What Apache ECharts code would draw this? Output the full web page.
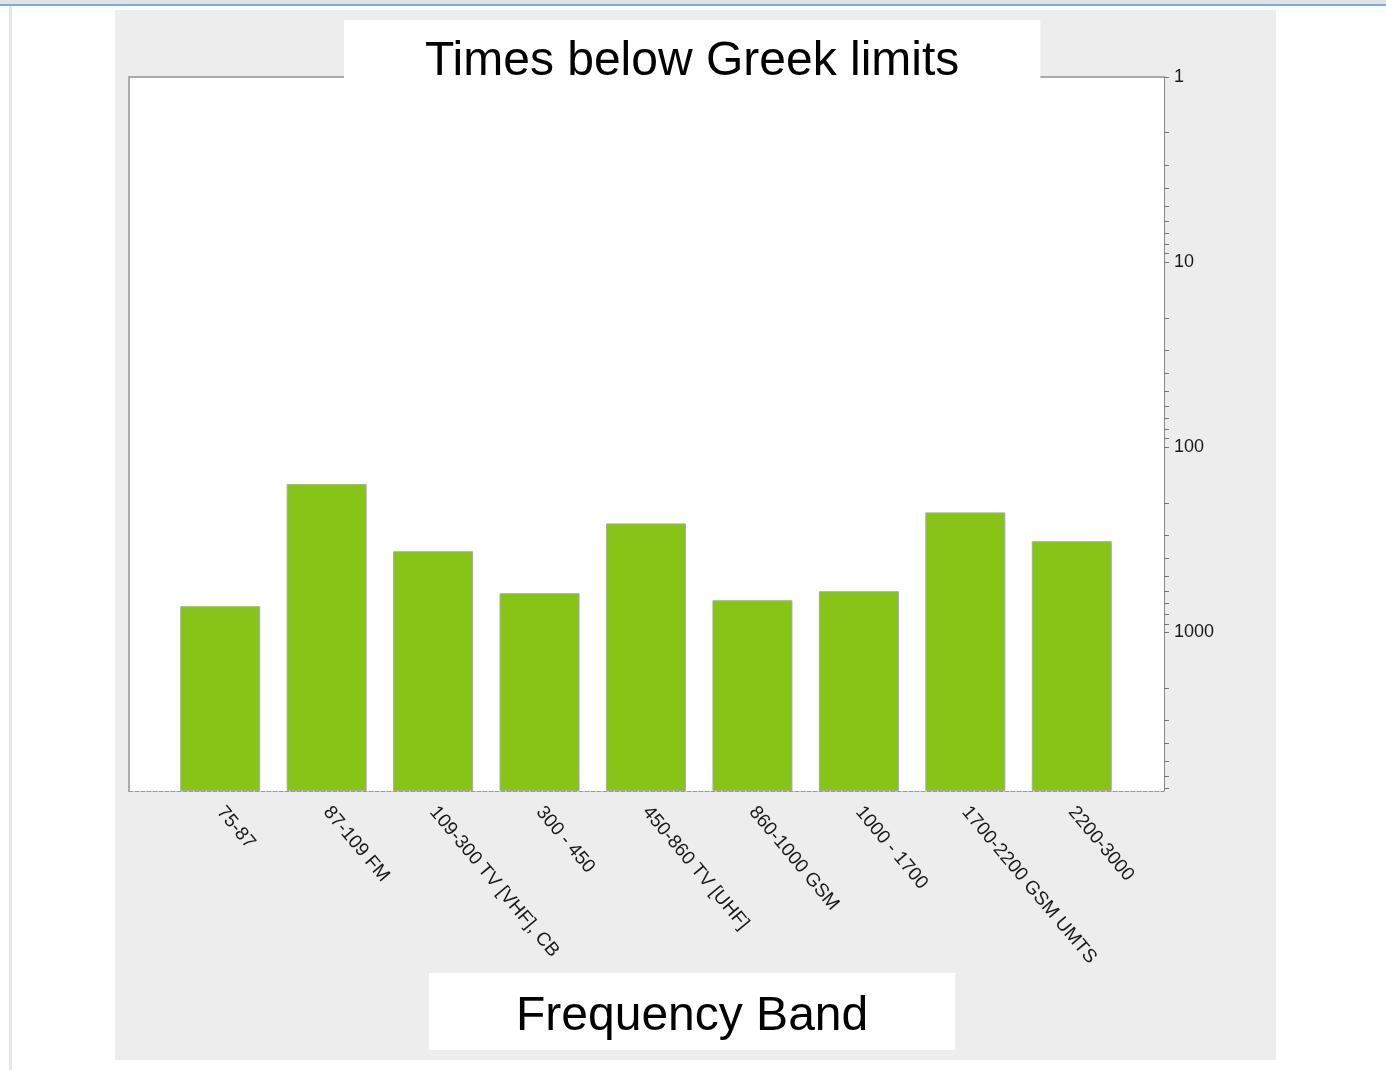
<!DOCTYPE html>
<html>
<head>
<meta charset="utf-8">
<script src="https://cdn.jsdelivr.net/npm/echarts@6/dist/echarts.min.js"></script>
<style>
  html, body { margin: 0; padding: 0; background: #fff; width: 1386px; height: 1070px; overflow: hidden; }
  .topbar { position: absolute; left: 0; top: 0; width: 1386px; height: 4px; background: #e2e2e2; }
  .blueline { position: absolute; left: 0; top: 4px; width: 1386px; height: 2px; background: #7ea9da; }
  .leftline { position: absolute; left: 9px; top: 6px; width: 3px; height: 1064px; background: #e6e6e6; }
  #chart { position: absolute; left: 115px; top: 10px; width: 1161px; height: 1050px; background: #ededed; }
</style>
</head>
<body>
<div class="topbar"></div>
<div class="blueline"></div>
<div class="leftline"></div>
<div id="chart"></div>
<script>
// frequency bands (MHz)
var bands = ['75-87', '87-109 FM', '109-300 TV [VHF], CB', '300 - 450', '450-860 TV [UHF]',
  '860-1000 GSM', '1000 - 1700', '1700-2200 GSM UMTS', '2200-3000'];
// how many times below the limit
var timesBelow = [723, 158, 365, 615, 258, 671, 600, 225, 322];

var yMin = 1;
var yMax = 7200;
var yLabelValues = [1, 10, 100, 1000];
var yTickValues = [1, 2, 3, 4, 5, 6, 7, 8, 9,
  10, 20, 30, 40, 50, 60, 70, 80, 90,
  100, 200, 300, 400, 500, 600, 700, 800, 900,
  1000, 2000, 3000, 4000, 5000, 6000, 7000];

var chart = echarts.init(document.getElementById('chart'));

var option = {
  animation: false,
  title: [{
    text: 'Times below Greek limits',
    left: 229,
    top: 10,
    backgroundColor: '#fff',
    padding: [18, 81, 0, 81],
    textStyle: { fontFamily: 'Liberation Sans', fontSize: 48, fontWeight: 'normal', color: '#000', lineHeight: 48 }
  }, {
    text: 'Frequency Band',
    left: 314,
    top: 963,
    backgroundColor: '#fff',
    padding: [20, 87, 9, 87],
    textStyle: { fontFamily: 'Liberation Sans', fontSize: 48, fontWeight: 'normal', color: '#000', lineHeight: 48 }
  }],
  grid: [{
    // plot frame
    left: 14, top: 67, width: 1035, height: 714,
    show: true, backgroundColor: '#fff', borderWidth: 0
  }, {
    // bars
    left: 52, top: 67, width: 958, height: 714
  }],
  xAxis: [{
    gridIndex: 0, type: 'value', min: 0, max: 1, position: 'bottom',
    axisLine: { show: true, lineStyle: { color: '#999', type: 'dashed', width: 1 } },
    axisTick: { show: false }, axisLabel: { show: false }, splitLine: { show: false }
  }, {
    gridIndex: 0, type: 'value', min: 0, max: 1, position: 'top',
    axisLine: { show: true, lineStyle: { color: '#aaa', width: 2 } },
    axisTick: { show: false }, axisLabel: { show: false }, splitLine: { show: false }
  }, {
    gridIndex: 1, type: 'category', data: bands, position: 'bottom',
    axisLine: { show: false }, axisTick: { show: false },
    axisLabel: {
      rotate: -50, margin: 18, interval: 0,
      fontFamily: 'Liberation Sans', fontSize: 19, color: '#1a1a1a'
    }
  }],
  yAxis: [{
    gridIndex: 0, type: 'value', min: 0, max: 1, position: 'left',
    axisLine: { show: true, lineStyle: { color: '#aaa', width: 2 } },
    axisTick: { show: false }, axisLabel: { show: false }, splitLine: { show: false }
  }, {
    gridIndex: 1, type: 'log', logBase: 10, min: yMin, max: yMax,
    inverse: true, position: 'right', offset: 39, startValue: yMax,
    axisLine: { show: true, lineStyle: { color: '#888', width: 1 } },
    axisTick: { show: true, length: 5, lineStyle: { color: '#777' }, customValues: yTickValues },
    axisLabel: {
      margin: 10, customValues: yLabelValues,
      formatter: function (v) { return String(v); },
      fontFamily: 'Liberation Sans', fontSize: 18, color: '#1a1a1a'
    },
    splitLine: { show: false },
    minorTick: { show: false }
  }],
  series: [{
    type: 'bar',
    xAxisIndex: 2,
    yAxisIndex: 1,
    data: timesBelow,
    barWidth: 80,
    itemStyle: { color: '#86c516', borderColor: '#a8a8a8', borderWidth: 1 }
  }]
};

chart.setOption(option);
</script>
</body>
</html>
